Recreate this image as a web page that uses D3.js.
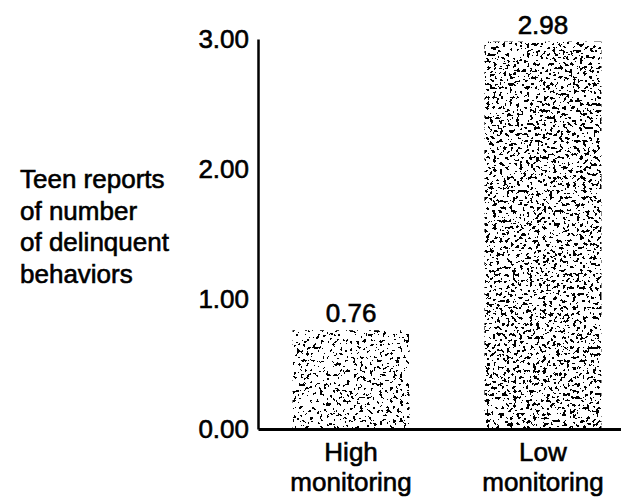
<!DOCTYPE html>
<html>
<head>
<meta charset="utf-8">
<script src="https://cdn.jsdelivr.net/npm/d3@7"></script>
<style>
  body { margin: 0; background: #fff; }
  svg { display: block; font-family: "Liberation Sans", Arial, sans-serif; }
  text { fill: #000; stroke: #000; stroke-width: 0.6px; }
</style>
</head>
<body>
<svg id="chart" width="621" height="500"></svg>
<script>
// chart values
const categories = ["High monitoring", "Low monitoring"];
const categoryLines = [["High", "monitoring"], ["Low", "monitoring"]];
const values = [0.76, 2.98];
const yTicks = [0, 1, 2, 3];
const yTitleLines = ["Teen reports", "of number", "of delinquent", "behaviors"];

const svg = d3.select("#chart");

// scales
const y = d3.scaleLinear().domain([0, 3]).range([429, 39]);
const x = d3
  .scaleBand()
  .domain(categories)
  .range([258, 636])
  .paddingInner(0.39)
  .paddingOuter(0.18);

// stipple texture for the bars (noise thresholded to black dots)
const defs = svg.append("defs");
function stipple(id, cut, seed) {
  const f = defs
    .append("filter")
    .attr("id", id)
    .attr("x", 0)
    .attr("y", 0)
    .attr("width", 1)
    .attr("height", 1);
  f.append("feTurbulence")
    .attr("type", "fractalNoise")
    .attr("baseFrequency", 0.3)
    .attr("numOctaves", 2)
    .attr("seed", seed)
    .attr("result", "noise");
  f.append("feColorMatrix")
    .attr("in", "noise")
    .attr("type", "matrix")
    .attr("values", "0 0 0 0 0  0 0 0 0 0  0 0 0 0 0  1 0 0 0 0")
    .attr("result", "a");
  const table = d3.range(40).map((i) => (i / 40 >= cut ? 1 : 0)).join(" ");
  f.append("feComponentTransfer")
    .attr("in", "a")
    .attr("result", "dots")
    .append("feFuncA")
    .attr("type", "discrete")
    .attr("tableValues", table);
  f.append("feComposite")
    .attr("in", "dots")
    .attr("in2", "SourceGraphic")
    .attr("operator", "in");
}
stipple("dotsLight", 0.625, 7);
stipple("dotsDark", 0.6, 11);

// bars
svg
  .append("g")
  .selectAll("rect")
  .data(values)
  .join("rect")
  .attr("x", (d, i) => x(categories[i]))
  .attr("y", (d) => y(d))
  .attr("width", x.bandwidth())
  .attr("height", (d) => y(0) - y(d))
  .attr("fill", "#000")
  .attr("filter", (d, i) => (i === 0 ? "url(#dotsLight)" : "url(#dotsDark)"));

// value labels
svg
  .append("g")
  .selectAll("text")
  .data(values)
  .join("text")
  .attr("x", (d, i) => x(categories[i]) + x.bandwidth() / 2)
  .attr("y", (d) => y(d) - 8)
  .attr("text-anchor", "middle")
  .attr("font-size", 26)
  .text((d) => d.toFixed(2));

// y axis
const yAxis = svg
  .append("g")
  .attr("transform", "translate(258,0)")
  .call(
    d3
      .axisLeft(y)
      .tickValues(yTicks)
      .tickFormat(d3.format(".2f"))
      .tickSize(0)
      .tickSizeOuter(0)
      .tickPadding(9)
  );
yAxis.select(".domain").attr("stroke", "#000").attr("stroke-width", 2.5);
yAxis.selectAll("text").attr("font-size", 26).attr("font-family", null);

// x axis
const xAxis = svg
  .append("g")
  .attr("transform", `translate(0,${y(0)})`)
  .call(d3.axisBottom(x).tickSize(0).tickSizeOuter(0).tickPadding(14));
xAxis.select(".domain").attr("stroke", "#000").attr("stroke-width", 3);
xAxis
  .selectAll("text")
  .attr("font-size", 26)
  .attr("font-family", null)
  .text(null)
  .each(function (d, i) {
    const t = d3.select(this);
    categoryLines[i].forEach((line, k) => {
      t.append("tspan")
        .attr("x", 0)
        .attr("dy", k === 0 ? "0.71em" : 30)
        .text(line);
    });
  });

// y title
svg
  .append("g")
  .selectAll("text")
  .data(yTitleLines)
  .join("text")
  .attr("x", 20)
  .attr("y", (d, i) => 188 + i * 31.5)
  .attr("font-size", 26)
  .text((d) => d);
</script>
</body>
</html>
